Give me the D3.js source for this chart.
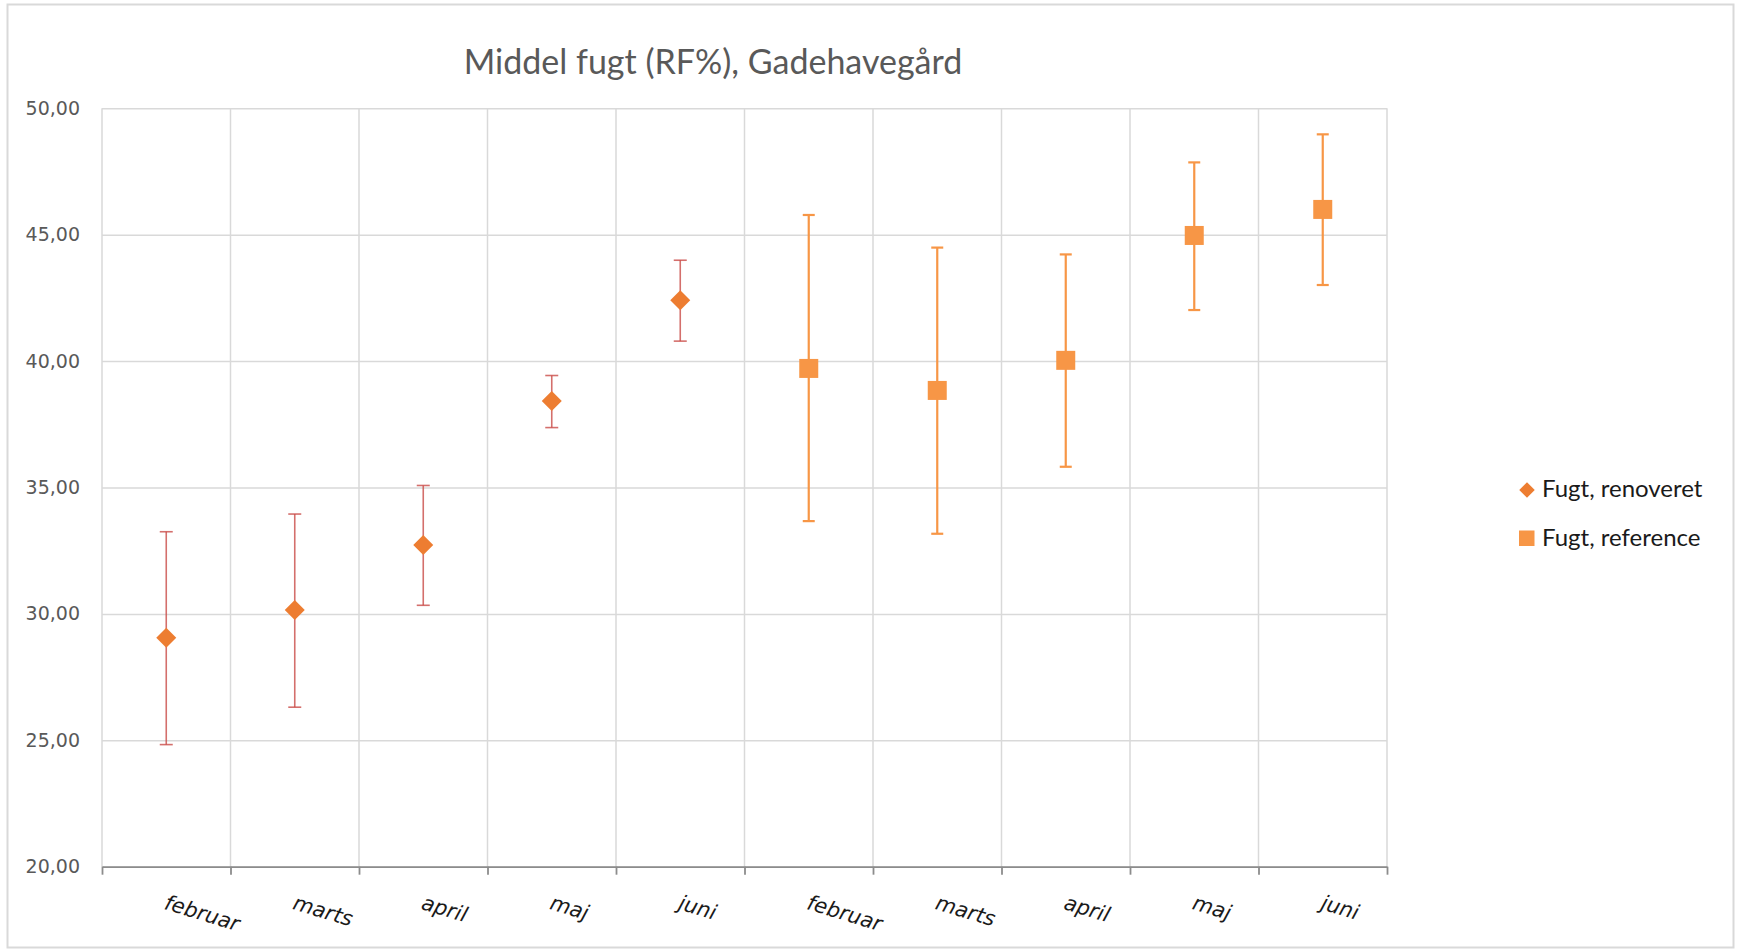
<!DOCTYPE html>
<html>
<head>
  <meta charset="utf-8">
  <title>Middel fugt (RF%), Gadehavegård</title>
  <style>
    body { margin: 0; background: #fff; }
  </style>
</head>
<body>
  <script src="https://d3js.org/d3.v7.min.js" charset="utf-8"></script>
  <script type="text/javascript">
    // data
    var months = ['februar', 'marts', 'april', 'maj', 'juni', 'februar', 'marts', 'april', 'maj', 'juni'];
    var renoveretMean = [29.06, 30.15, 32.73, 38.42, 42.41];
    var renoveretHigh = [33.25, 33.95, 35.08, 39.43, 43.99];
    var renoveretLow  = [24.83, 26.31, 30.34, 37.37, 40.79];
    var referenceMean = [39.71, 38.84, 40.03, 44.97, 46.00];
    var referenceHigh = [45.78, 44.49, 44.22, 47.86, 48.97];
    var referenceLow  = [33.67, 33.17, 35.82, 42.02, 43.01];
    var yTicks = [20, 25, 30, 35, 40, 45, 50];
    var seriesNames = ['Fugt, renoveret', 'Fugt, reference'];

    var svgW = 1737;
    var svgH = 950;
    var plotL = 102, plotR = 1387, plotT = 108.3, plotB = 866.7;
    var grid = '#d9d9d9';
    var diamondColor = '#ED7D31';
    var squareColor = '#F79646';

    var svg = d3.select('body').append('svg')
      .attr('width', svgW).attr('height', svgH);

    // chart border
    svg.append('rect')
      .attr('x', 7.5).attr('y', 4.5)
      .attr('width', 1726).attr('height', 943)
      .attr('fill', '#fff').attr('stroke', grid).attr('stroke-width', 2);

    svg.append('text')
      .attr('x', 713).attr('y', 74)
      .attr('text-anchor', 'middle')
      .attr('font-family', 'Lato, sans-serif').attr('font-size', '34px')
      .attr('fill', '#595959')
      .text('Middel fugt (RF%), Gadehavegård');

    var x = d3.scaleBand().domain(d3.range(months.length)).range([plotL, plotR]);
    var xEdge = d3.scaleLinear().domain([0, months.length]).range([plotL, plotR]);
    var y = d3.scaleLinear().domain([20, 50]).range([plotB, plotT]);

    // horizontal gridlines + labels
    var yAxis = svg.append('g')
      .attr('transform', 'translate(' + plotL + ',0)')
      .call(d3.axisLeft(y).tickValues(yTicks).tickSize(-(plotR - plotL)).tickPadding(22)
        .tickFormat(function(d) { return d3.format('.2f')(d).replace('.', ','); }));
    yAxis.select('.domain').remove();
    yAxis.selectAll('line').attr('stroke', grid).attr('stroke-width', 1.5);
    yAxis.selectAll('text')
      .attr('font-family', '"DejaVu Sans", sans-serif').attr('font-size', '19px')
      .attr('fill', '#595959');

    // vertical gridlines at category edges
    svg.append('g').selectAll('line').data(d3.range(months.length + 1)).enter().append('line')
      .attr('x1', function(d) { return xEdge(d); })
      .attr('x2', function(d) { return xEdge(d); })
      .attr('y1', plotT).attr('y2', plotB)
      .attr('stroke', grid).attr('stroke-width', 1.5);

    // bottom axis
    var xAxis = svg.append('g')
      .attr('transform', 'translate(0,' + plotB + ')')
      .call(d3.axisBottom(xEdge).tickValues(d3.range(months.length + 1)).tickSize(8).tickSizeOuter(0).tickFormat(''));
    xAxis.selectAll('line, path').attr('stroke', '#8c8c8c').attr('stroke-width', 1.8);

    svg.append('g').selectAll('text').data(months).enter().append('text')
      .attr('transform', function(d, i) {
        return 'translate(' + (x(i) + x.bandwidth() / 2 - 3) + ',' + (plotB + 42) + ') rotate(17)';
      })
      .attr('font-family', '"DejaVu Sans", sans-serif').attr('font-style', 'italic')
      .attr('font-size', '21px').attr('fill', '#1a1a1a')
      .text(function(d) { return d; });

    function drawErrors(mean, high, low, offset, color, width, opacity, capW) {
      var g = svg.append('g').attr('stroke', color).attr('stroke-width', width).attr('stroke-opacity', opacity);
      var cx = function(i) { return x(i + offset) + x.bandwidth() / 2; };
      g.selectAll('.bar').data(mean).enter().append('line')
        .attr('x1', function(d, i) { return cx(i); })
        .attr('x2', function(d, i) { return cx(i); })
        .attr('y1', function(d, i) { return y(high[i]); })
        .attr('y2', function(d, i) { return y(low[i]); });
      [high, low].forEach(function(arr) {
        g.selectAll(null).data(arr).enter().append('line')
          .attr('x1', function(d, i) { return cx(i) - capW / 2; })
          .attr('x2', function(d, i) { return cx(i) + capW / 2; })
          .attr('y1', function(d) { return y(d); })
          .attr('y2', function(d) { return y(d); });
      });
    }

    drawErrors(renoveretMean, renoveretHigh, renoveretLow, 0, '#C94B47', 1.6, 0.8, 13);
    drawErrors(referenceMean, referenceHigh, referenceLow, 5, squareColor, 2.2, 1, 12);

    svg.append('g').selectAll('path').data(renoveretMean).enter().append('path')
      .attr('d', d3.symbol().type(d3.symbolSquare).size(200))
      .attr('transform', function(d, i) {
        return 'translate(' + (x(i) + x.bandwidth() / 2) + ',' + y(d) + ') rotate(45)';
      })
      .attr('fill', diamondColor);

    svg.append('g').selectAll('rect').data(referenceMean).enter().append('rect')
      .attr('x', function(d, i) { return x(i + 5) + x.bandwidth() / 2 - 9.5; })
      .attr('y', function(d) { return y(d) - 9.5; })
      .attr('width', 19).attr('height', 19)
      .attr('fill', squareColor);

    // legend
    var legend = svg.append('g');
    legend.append('path')
      .attr('d', d3.symbol().type(d3.symbolSquare).size(120))
      .attr('transform', 'translate(1527,490) rotate(45)')
      .attr('fill', diamondColor);
    legend.append('rect')
      .attr('x', 1519).attr('y', 530.5).attr('width', 15.5).attr('height', 15.5)
      .attr('fill', squareColor);
    legend.selectAll('text').data(seriesNames).enter().append('text')
      .attr('x', 1542).attr('y', function(d, i) { return 497 + i * 48.5; })
      .attr('font-family', 'Lato, sans-serif').attr('font-size', '24px')
      .attr('fill', '#1a1a1a')
      .text(function(d) { return d; });
  </script>
</body>
</html>
